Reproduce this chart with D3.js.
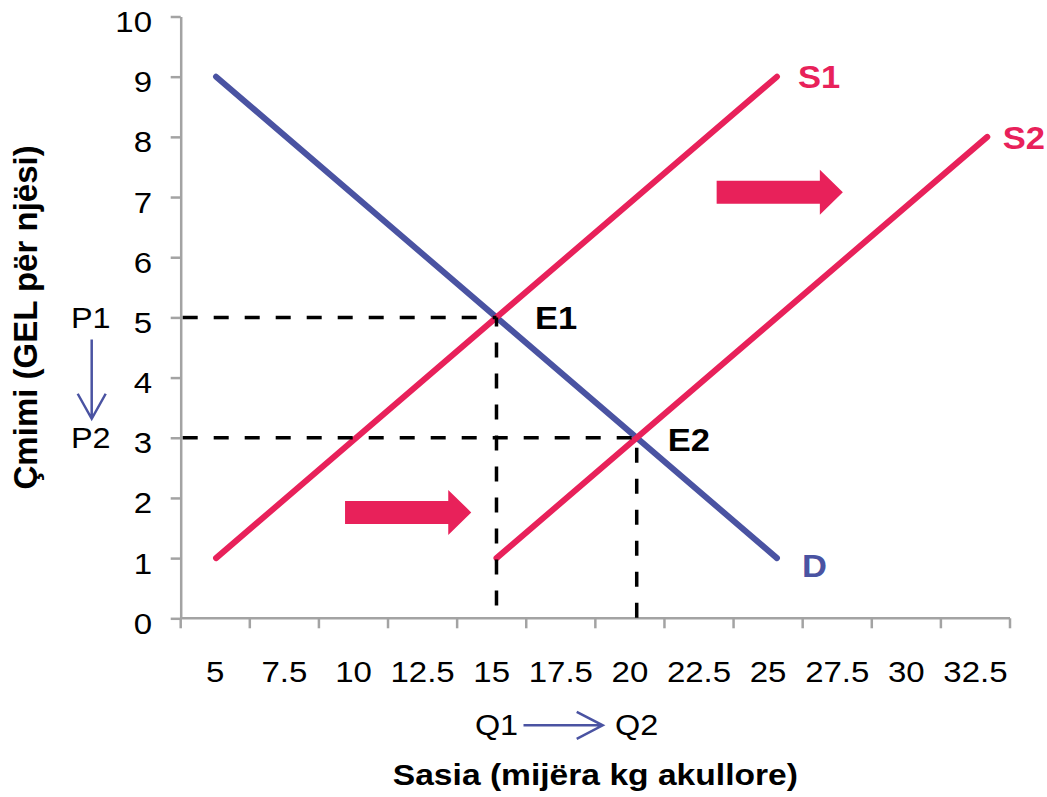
<!DOCTYPE html>
<html>
<head>
<meta charset="utf-8">
<script src="https://cdn.jsdelivr.net/npm/d3@7"></script>
<style>
  body { margin: 0; background: #fff; }
  svg { display: block; }
</style>
</head>
<body>
<script>
// Quantity categories shown on the horizontal axis
const categories = ["5", "7.5", "10", "12.5", "15", "17.5", "20", "22.5", "25", "27.5", "30", "32.5"];
// Price ticks on the vertical axis
const priceTicks = [0, 1, 2, 3, 4, 5, 6, 7, 8, 9, 10];

// Demand and the two supply curves (quantity q, price p)
const demandD  = [{ q: 5, p: 9 }, { q: 25, p: 1 }];
const supplyS1 = [{ q: 5, p: 1 }, { q: 25, p: 9 }];
const supplyS2 = [{ q: 15, p: 1 }, { q: 32.5, p: 8 }];

// Equilibrium points before and after the supply shift
const equilibria = [
  { name: "E1", q: 15, p: 5, price: "P1", qty: "Q1" },
  { name: "E2", q: 20, p: 3, price: "P2", qty: "Q2" }
];

// Block arrows showing the rightward shift of supply
const shiftArrows = [
  { q0: 9.6,   q1: 14.1,  p: 1.76 },
  { q0: 22.85, q1: 27.35, p: 7.08 }
];

const W = 1047, H = 797;
const plot = { left: 180.7, right: 1010, top: 16.5, bottom: 618.3 };

const PINK = "#e8215a";
const BLUE = "#4a53a2";
const AXIS = "#a3a3a3";
const FONT = "'Liberation Sans', Arial, Helvetica, sans-serif";

const svg = d3.select("body").append("svg")
  .attr("width", W).attr("height", H)
  .style("font-family", FONT);

const y = d3.scaleLinear().domain([0, 10]).range([plot.bottom, plot.top]);
const xBand = d3.scaleBand().domain(categories).range([plot.left, plot.right]);
const xLin = d3.scaleLinear().domain([3.74, 33.31]).range([plot.left, plot.right]);

// Text helper: places text with a slight horizontal widening
function label(parent, str, x, yPos, opts = {}) {
  const sx = opts.sx || 1;
  return parent.append("text")
    .attr("transform", `translate(${x},${yPos}) scale(${sx},1)`)
    .attr("text-anchor", opts.anchor || "start")
    .attr("font-size", opts.size || 30)
    .attr("font-weight", opts.weight || "normal")
    .attr("fill", opts.fill || "#000")
    .text(str);
}

// ---- Y axis ----
const yAxis = svg.append("g")
  .attr("transform", `translate(${plot.left},0)`)
  .call(d3.axisLeft(y).tickValues(priceTicks).tickSize(10).tickSizeOuter(0).tickFormat(d3.format("d")));
yAxis.select(".domain").attr("stroke", AXIS).attr("stroke-width", 2.5);
yAxis.selectAll(".tick line").attr("stroke", AXIS).attr("stroke-width", 2.5);
yAxis.selectAll(".tick text")
  .attr("x", null).attr("dy", "0.5em")
  .attr("transform", "translate(-28.7,0) scale(1.1,1)")
  .attr("font-size", 30).attr("font-family", FONT).attr("fill", "#000");

// ---- X axis (categories centred between tick marks) ----
const xAxis = svg.append("g")
  .attr("transform", `translate(0,${plot.bottom})`)
  .call(d3.axisBottom(xBand).tickSize(0).tickSizeOuter(0));
xAxis.select(".domain").remove();
xAxis.selectAll(".tick text")
  .attr("y", null).attr("dy", null)
  .attr("transform", "translate(0,64) scale(1.1,1)")
  .attr("font-size", 30).attr("font-family", FONT).attr("fill", "#000");

svg.append("line")
  .attr("x1", plot.left).attr("x2", plot.right)
  .attr("y1", plot.bottom).attr("y2", plot.bottom)
  .attr("stroke", AXIS).attr("stroke-width", 2.5);

const edges = categories.map(c => xBand(c)).concat([xBand.range()[1]]);
svg.append("g").selectAll("line").data(edges).join("line")
  .attr("x1", d => d).attr("x2", d => d)
  .attr("y1", plot.bottom).attr("y2", plot.bottom + 10)
  .attr("stroke", AXIS).attr("stroke-width", 2.5);

// ---- Curves ----
const line = d3.line().x(d => xLin(d.q)).y(d => y(d.p));
[[demandD, BLUE], [supplyS1, PINK], [supplyS2, PINK]].forEach(([data, color]) => {
  svg.append("path").datum(data)
    .attr("d", line)
    .attr("fill", "none")
    .attr("stroke", color)
    .attr("stroke-width", 6)
    .attr("stroke-linecap", "round");
});

// ---- Dashed guides to the equilibria ----
const vOffsets = [6, 21];
equilibria.forEach((e, i) => {
  svg.append("line")
    .attr("x1", plot.left + 2).attr("x2", xLin(e.q))
    .attr("y1", y(e.p)).attr("y2", y(e.p))
    .attr("stroke", "#000").attr("stroke-width", 3.5)
    .attr("stroke-dasharray", "15,16");
  svg.append("line")
    .attr("x1", xLin(e.q)).attr("x2", xLin(e.q))
    .attr("y1", y(e.p)).attr("y2", y(0))
    .attr("stroke", "#000").attr("stroke-width", 3.5)
    .attr("stroke-dasharray", "15,16")
    .attr("stroke-dashoffset", vOffsets[i]);
});

// ---- Shift arrows ----
shiftArrows.forEach(a => {
  const x0 = xLin(a.q0), x1 = xLin(a.q1), cy = y(a.p);
  const body = 11.5, head = 22.5, headLen = 23;
  const xh = x1 - headLen;
  svg.append("path")
    .attr("d", `M${x0},${cy - body} L${xh},${cy - body} L${xh},${cy - head} L${x1},${cy} L${xh},${cy + head} L${xh},${cy + body} L${x0},${cy + body} Z`)
    .attr("fill", PINK);
});

// ---- Curve labels ----
const bold = { size: 32, weight: "bold", sx: 1.08 };
label(svg, "S1", xLin(25) + 21, y(9) + 11.5, { ...bold, fill: PINK });
label(svg, "S2", xLin(32.5) + 15.5, y(8) + 12, { ...bold, fill: PINK });
label(svg, "D", xLin(25) + 25, y(1) + 19, { ...bold, fill: BLUE });
label(svg, "E1", xLin(15) + 38.5, y(5) + 12, bold);
label(svg, "E2", xLin(20) + 31, y(3) + 13, bold);

// ---- Price change P1 -> P2 ----
const px = plot.left - 89;
equilibria.forEach(e => label(svg, e.price, px - 1, y(e.p) + 10.5, { anchor: "middle", sx: 1.08 }));
const pTop = y(equilibria[0].p) + 22, pBot = y(equilibria[1].p) - 19;
svg.append("path")
  .attr("d", `M${px},${pTop} L${px},${pBot} M${px - 14},${pBot - 25} L${px},${pBot} L${px + 14},${pBot - 25}`)
  .attr("fill", "none").attr("stroke", BLUE).attr("stroke-width", 2.5);

// ---- Quantity change Q1 -> Q2 ----
const qy = plot.bottom + 107;
equilibria.forEach(e => label(svg, e.qty, xLin(e.q), plot.bottom + 117, { anchor: "middle", sx: 1.08 }));
const qL = xLin(equilibria[0].q) + 27, qR = xLin(equilibria[1].q) - 34;
svg.append("path")
  .attr("d", `M${qL},${qy} L${qR},${qy} M${qR - 26},${qy - 13.5} L${qR},${qy} L${qR - 26},${qy + 13.5}`)
  .attr("fill", "none").attr("stroke", BLUE).attr("stroke-width", 2.5);

// ---- Axis titles ----
label(svg, "Sasia (mijëra kg akullore)", (plot.left + plot.right) / 2, 785,
  { anchor: "middle", size: 30, weight: "bold", sx: 1.12 });
svg.append("text")
  .attr("transform", `translate(36.7,${(plot.top + plot.bottom) / 2}) rotate(-90)`)
  .attr("text-anchor", "middle")
  .attr("font-size", 33).attr("font-weight", "bold")
  .text("Çmimi (GEL për njësi)");
</script>
</body>
</html>
